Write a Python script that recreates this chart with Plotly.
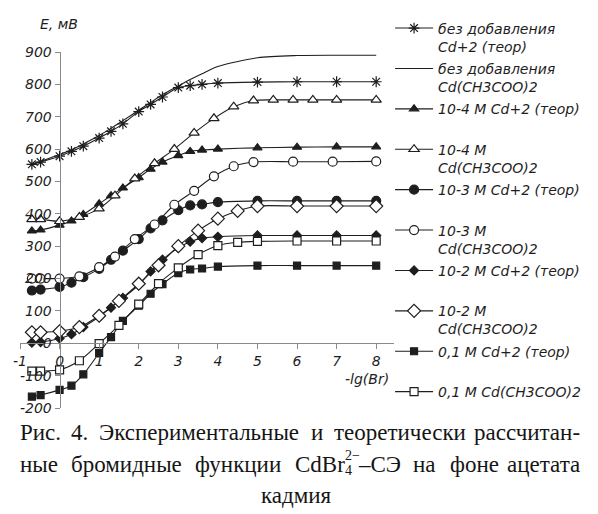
import plotly.graph_objects as go

# -lg[Br-] values: calculated curves share one grid, measured series have their own
x_theor = [-0.7, -0.48, 0, 0.3, 0.6, 1, 1.3, 1.6, 2, 2.3, 2.6, 3, 3.3, 3.6, 4, 5, 6, 7, 8]
x_exp_a = [-0.7, -0.48, 0, 0.5, 1, 1.4, 1.9, 2.4, 2.9, 3.4, 3.9, 4.4, 4.9, 5.4, 5.9, 6.4, 7, 8]
x_exp_b = [-0.7, -0.48, 0, 0.5, 1, 1.4, 1.9, 2.4, 2.9, 3.4, 3.9, 4.4, 4.9, 5.9, 6.9, 8]
x_exp_c = [-0.7, -0.48, 0, 0.5, 1, 1.5, 2, 2.5, 3, 3.5, 4, 4.5, 5, 6, 7, 8]

# E, mV
e_none_theor = [553, 560, 578, 593, 609, 634, 655, 678, 716, 738, 761, 790, 796, 800, 804, 807, 808, 808, 808]
e_none_exp = [553, 562, 583, 598, 616, 642, 664, 688, 720, 744, 768, 795, 815, 833, 855, 882, 889, 890, 890]
e_1e4_theor = [347, 350, 365, 378, 398, 431, 456, 480, 512, 538, 560, 580, 593, 597, 600, 604, 606, 607, 607]
e_1e4_exp = [383, 383, 377, 390, 416, 456, 509, 556, 600, 650, 695, 731, 750, 752, 752, 752, 752, 752]
e_1e3_theor = [163, 166, 174, 187, 204, 230, 258, 286, 322, 355, 380, 411, 426, 429, 436, 440, 440, 440, 440]
e_1e3_exp = [200, 200, 200, 207, 235, 268, 322, 367, 428, 471, 516, 547, 560, 561, 561, 562]
e_1e2_theor = [2, 4, 15, 28, 50, 82, 110, 140, 180, 222, 258, 295, 314, 325, 329, 333, 333, 333, 333]
e_1e2_exp = [34, 34, 37, 50, 85, 131, 184, 241, 300, 348, 385, 409, 424, 424, 424, 424]
e_1e1_theor = [-165, -160, -144, -131, -96, -30, 19, 69, 116, 153, 183, 217, 228, 231, 237, 240, 240, 240, 240]
e_1e1_exp = [-86, -86, -82, -54, -1, 55, 121, 184, 233, 274, 302, 312, 315, 316, 316, 316]

x_ticks = [-1, 0, 1, 2, 3, 4, 5, 6, 7, 8]
y_ticks = [-200, -100, 0, 100, 200, 300, 400, 500, 600, 700, 800, 900]
x_range = [-1, 8.45]
y_range = [-200, 900]

INK = "#1e1e1e"
AXIS = "#8a8a8a"
SANS = "DejaVu Sans"
SERIF = "Liberation Serif"

series = [
    ("без добавления<br>Cd+2 (теор)", x_theor, e_none_theor, "asterisk-open", 9, None),
    ("без добавления<br>Cd(CH3COO)2", x_theor, e_none_exp, None, 0, None),
    ("10-4 M Cd+2 (теор)<br> ", x_theor, e_1e4_theor, "triangle-up", 8, INK),
    ("10-4 M<br>Cd(CH3COO)2", x_exp_a, e_1e4_exp, "triangle-up", 9, "white"),
    ("10-3 M Cd+2 (теор)<br> ", x_theor, e_1e3_theor, "circle", 9, INK),
    ("10-3 M<br>Cd(CH3COO)2", x_exp_b, e_1e3_exp, "circle", 9, "white"),
    ("10-2 M Cd+2 (теор)<br> ", x_theor, e_1e2_theor, "diamond", 7, INK),
    ("10-2 M<br>Cd(CH3COO)2", x_exp_c, e_1e2_exp, "diamond", 10, "white"),
    ("0,1 M Cd+2 (теор)<br> ", x_theor, e_1e1_theor, "square", 7, INK),
    ("0,1 M Cd(CH3COO)2", x_exp_c, e_1e1_exp, "square", 8, "white"),
]

fig = go.Figure()
for i, (name, xs, ys, sym, size, fill) in enumerate(series):
    line = dict(color=INK, width=1.1, shape="spline", smoothing=0.8)
    if sym is None:
        fig.add_trace(go.Scatter(x=xs, y=ys, name=name, mode="lines",
                                 legendgroup=f"g{i}", line=line))
    else:
        marker = dict(symbol=sym, size=size, color=fill if fill else INK,
                      line=dict(color=INK, width=1.2))
        fig.add_trace(go.Scatter(x=xs, y=ys, name=name, mode="lines+markers",
                                 legendgroup=f"g{i}", line=line, marker=marker))

L, R, T, B = 20, 198, 48, 106
W, H = 598, 514
PW, PH = W - L - R, H - T - B


def px(xp):
    return (xp - L) / PW


def py(yp):
    return 1 - (yp - T) / PH


tick_font = dict(family=SANS, size=14, color=INK, style="italic")

fig.update_layout(
    width=W, height=H,
    margin=dict(l=L, r=R, t=T, b=B),
    paper_bgcolor="white", plot_bgcolor="white",
    showlegend=True,
    legend=dict(
        x=px(396), y=py(8), xanchor="left", yanchor="top",
        font=dict(family=SANS, size=14, color=INK, style="italic"),
        valign="top", tracegroupgap=1, itemwidth=38, maxheight=600,
        bgcolor="rgba(0,0,0,0)",
    ),
    xaxis=dict(
        range=x_range, tickvals=x_ticks, ticktext=[str(v) for v in x_ticks],
        anchor="free", position=(0 - y_range[0]) / (y_range[1] - y_range[0]),
        showline=True, linecolor=AXIS, linewidth=1,
        ticks="outside", ticklen=5, tickcolor=AXIS,
        showgrid=False, zeroline=False, tickfont=tick_font,
    ),
    yaxis=dict(
        range=y_range, tickvals=y_ticks, ticktext=[str(v) for v in y_ticks],
        anchor="free", position=(0 - x_range[0]) / (x_range[1] - x_range[0]),
        showline=True, linecolor=AXIS, linewidth=1,
        ticks="outside", ticklen=5, tickcolor=AXIS,
        showgrid=False, zeroline=False, tickfont=tick_font,
    ),
)

ann = []
# axis titles
ann.append(dict(text="E, мВ", x=px(38), y=py(20), xanchor="left", yanchor="middle",
                font=dict(family=SANS, size=14, color=INK, style="italic")))
ann.append(dict(text="-lg(Br)", x=px(397), y=py(379), xanchor="right", yanchor="middle",
                font=dict(family=SANS, size=14, color=INK, style="italic")))

# ---- figure caption, justified between the page margins ----
CAP_SIZE = 23
CAP_LEFT, CAP_RIGHT = 18, 591
cap_font = dict(family=SERIF, size=CAP_SIZE, color="#151515")
small_font = dict(family=SERIF, size=14, color="#151515")

# Times-compatible advance widths (1/1000 em) for the glyphs in the caption
ADV = {
    "Р": 556, "Э": 643, "С": 667, "C": 667, "B": 667,
    "а": 444, "б": 509, "в": 472, "г": 410, "д": 509, "е": 444, "ж": 691,
    "з": 395, "и": 535, "й": 535, "к": 486, "л": 499, "м": 633, "н": 535,
    "о": 500, "п": 535, "р": 500, "с": 444, "т": 437, "у": 500, "ф": 648,
    "х": 500, "ц": 535, "ч": 503, "ш": 770, "ы": 672, "ь": 456, "э": 429,
    "я": 486, "d": 500, "r": 333, ".": 250, "4": 500, "-": 333, "–": 500,
}
# rendered widths (px at CAP_SIZE) where the table above is off
WIDTH_FIX = {"Экспериментальные": 204, "теоретически": 127, "рассчитан-": 116}


def word_width(word, size=CAP_SIZE):
    if word in WIDTH_FIX and size == CAP_SIZE:
        return WIDTH_FIX[word]
    return sum(ADV.get(ch, 500) for ch in word) * size / 1000.0


def justify(widths):
    """Left edges that spread the words evenly between the caption margins."""
    gap = (CAP_RIGHT - CAP_LEFT - sum(widths)) / (len(widths) - 1)
    pos, x = [], CAP_LEFT
    for wdt in widths:
        pos.append(x)
        x += wdt + gap
    return pos


line1 = ["Рис.", "4.", "Экспериментальные", "и", "теоретически", "рассчитан-"]
y1 = 433
for k, (word, xp) in enumerate(zip(line1, justify([word_width(w) for w in line1]))):
    anchor, xa = ("right", CAP_RIGHT) if k == len(line1) - 1 else ("left", xp)
    ann.append(dict(text=word, x=px(xa), y=py(y1), xanchor=anchor, yanchor="middle",
                    font=cap_font))

# second line holds the ion formula CdBr4(2-) with stacked indices
idx_w = 15
formula_w = word_width("CdBr") + idx_w + word_width("–СЭ")
line2 = ["ные", "бромидные", "функции", None, "на", "фоне", "ацетата"]
w2 = [formula_w if w is None else word_width(w) for w in line2]
y2 = 465
for k, (item, xp) in enumerate(zip(line2, justify(w2))):
    if item is None:
        ann.append(dict(text="CdBr", x=px(xp), y=py(y2), xanchor="left", yanchor="middle",
                        font=cap_font))
        xi = xp + word_width("CdBr") + 1
        ann.append(dict(text="4", x=px(xi), y=py(y2 + 6), xanchor="left", yanchor="middle",
                        font=small_font))
        ann.append(dict(text="2−", x=px(xi), y=py(y2 - 9), xanchor="left", yanchor="middle",
                        font=small_font))
        ann.append(dict(text="–СЭ", x=px(xi + idx_w - 1), y=py(y2), xanchor="left",
                        yanchor="middle", font=cap_font))
        continue
    anchor, xa = ("right", CAP_RIGHT) if k == len(line2) - 1 else ("left", xp)
    ann.append(dict(text=item, x=px(xa), y=py(y2), xanchor=anchor, yanchor="middle",
                    font=cap_font))

ann.append(dict(text="кадмия", x=px(301), y=py(496), xanchor="center", yanchor="middle",
                font=cap_font))

for a in ann:
    a.update(xref="paper", yref="paper", showarrow=False)
fig.update_layout(annotations=ann)

fig.write_html("out.html")
